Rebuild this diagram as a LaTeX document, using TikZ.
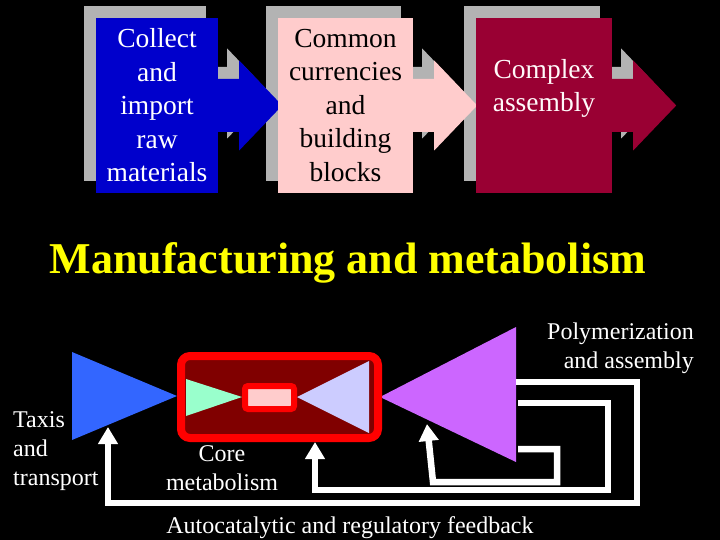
\documentclass[tikz,border=0pt]{standalone}
\usepackage{fontspec}
\setmainfont{Liberation Serif}
\usetikzlibrary{arrows.meta}

\definecolor{shadowgray}{HTML}{B3B3B3}
\definecolor{boxblue}{HTML}{0000CC}
\definecolor{boxpink}{HTML}{FFCCCC}
\definecolor{boxmaroon}{HTML}{990033}
\definecolor{titleyellow}{HTML}{FFFF00}
\definecolor{taxisblue}{HTML}{3366FF}
\definecolor{corered}{HTML}{FF0000}
\definecolor{coredark}{HTML}{800000}
\definecolor{coregreen}{HTML}{99FFCC}
\definecolor{corelav}{HTML}{CCCCFF}
\definecolor{polypurple}{HTML}{CC66FF}

\begin{document}
\begin{tikzpicture}[x=1pt, y=-1pt,
  shadebox/.style={fill=shadowgray, minimum height=175, inner sep=0},
  stagebox/.style={minimum height=175, inner sep=0, align=center,
    font=\fontsize{27.5}{33.5}\selectfont},
  heading/.style={text=titleyellow, inner sep=0,
    font=\fontsize{44}{50}\selectfont\bfseries},
  note/.style={text=white, inner sep=0,
    font=\fontsize{24}{29}\selectfont},
  corebox/.style={draw=corered, fill=coredark, line width=8,
    rounded corners=9, minimum width=197, minimum height=82},
  hubbox/.style={draw=corered, fill=boxpink, line width=6,
    rounded corners=3, minimum width=49, minimum height=23},
  feedback/.style={draw=white, line width=6.5,
    -{Triangle[width=19,length=17]}}]
  \useasboundingbox (0,0) rectangle (720,540);
  \fill[black] (0,0) rectangle (720,540);

  % shadows of the three stages
  \node[shadebox, minimum width=122] (sh1) at (145,93.5) {};
  \node[shadebox, minimum width=135] (sh2) at (333.5,93.5) {};
  \node[shadebox, minimum width=136] (sh3) at (532,93.5) {};
  \foreach \s in {sh1,sh2,sh3}
    \fill[shadowgray] (\s.east) ++(-4,-26.5) -- ++(25,0) -- ++(0,-18.5)
      -- ++(43,45) -- ++(-43,45) -- ++(0,-18.5) -- ++(-25,0) -- cycle;

  % stage arrows and boxes
  \foreach \s/\c in {sh1/boxblue,sh2/boxpink,sh3/boxmaroon}
    \fill[\c] ([shift={(12,12)}]\s.east) ++(-4,-26.5) -- ++(25,0) -- ++(0,-18.5)
      -- ++(43,45) -- ++(-43,45) -- ++(0,-18.5) -- ++(-25,0) -- cycle;
  \node[stagebox, fill=boxblue, text=white, minimum width=122] (b1)
    at ([shift={(12,12)}]sh1.center) {Collect\\and\\import\\raw\\materials};
  \node[stagebox, fill=boxpink, text=black, minimum width=135] (b2)
    at ([shift={(12,12)}]sh2.center) {Common\\currencies\\and\\building\\blocks};
  \node[stagebox, fill=boxmaroon, minimum width=136] (b3)
    at ([shift={(12,12)}]sh3.center) {};
  \node[stagebox, minimum height=0, text=white!92!pink] (t3)
    at ([shift={(0,-17)}]b3.center) {Complex\\assembly};

  \node[heading, anchor=base] (title) at (348,273) {Manufacturing and metabolism};

  % network
  \fill[taxisblue] (72,352) -- (177,396) coordinate (taxtip) -- (72,440) -- cycle;
  \fill[polypurple] (380,397) coordinate (polytip) -- (516,327) -- (516,462) -- cycle;
  \node[corebox] (core) at (279.5,397) {};
  \fill[coregreen] (186,379) -- (242,397) -- (186,416) -- cycle;
  \fill[corelav] (297,397) -- (369,361) -- (369,433) -- cycle;
  \node[hubbox] (hub) at (269.5,397.5) {};

  % feedback loops
  \coordinate (fbout1) at (516,382);
  \coordinate (fbout2) at (518,403);
  \coordinate (fbout3) at (518,449);
  \coordinate (taxin) at (108,427);
  \coordinate (corein) at (315,442);
  \coordinate (polyin) at (427,424);
  \draw[feedback] (fbout1) -| (637,503) -| (taxin);
  \draw[feedback] (fbout2) -| (608,490) -| (corein);
  \draw[feedback] (fbout3) -| (557,482) -- (433,482) -- (polyin);

  \node[note, align=right, anchor=east] (polylbl) at (694,348)
    {Polymerization\\and assembly};
  \node[note, align=left, anchor=west] (taxlbl) at (13,451)
    {Taxis\\and\\transport};
  \node[note, align=center] (corelbl) at (222,468) {Core\\metabolism};
  \node[note, anchor=base] (fblbl) at (350,533)
    {Autocatalytic and regulatory feedback};
\end{tikzpicture}
\end{document}
